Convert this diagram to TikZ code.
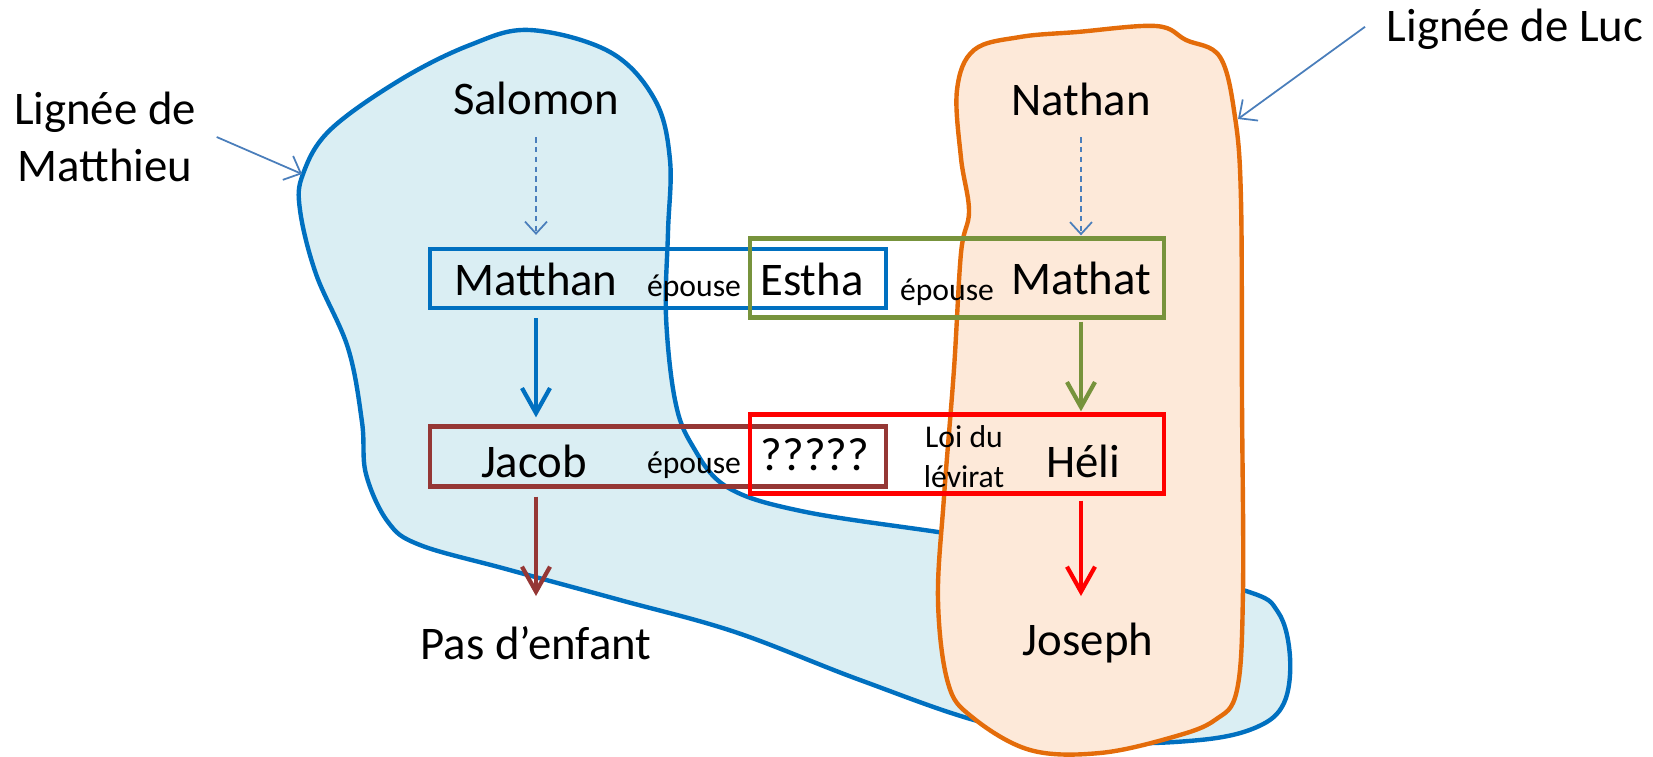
\documentclass[tikz,border=0pt]{standalone}
\usepackage{fontspec}
\setmainfont{Carlito}
\usetikzlibrary{arrows.meta}
\usetikzlibrary{positioning}
\usetikzlibrary{calc}
\definecolor{mblue}{HTML}{0070C0}
\definecolor{mbluefill}{HTML}{DAEEF3}
\definecolor{lorange}{HTML}{E46C0A}
\definecolor{lorangefill}{HTML}{FDE9D9}
\definecolor{mgreen}{HTML}{77933C}
\definecolor{mbrown}{HTML}{953735}
\definecolor{pblue}{HTML}{4A7EBB}
\begin{document}
\begin{tikzpicture}[x=0.01cm, y=-0.01cm,
  person/.style={font=\fontsize{13.3}{16.2}\selectfont, inner sep=0pt, anchor=base},
  note/.style={font=\fontsize{9}{11.2}\selectfont, inner sep=0pt, anchor=base},
  couple/.style={draw=#1, line width=1.2pt, minimum width=4.56cm, inner sep=0pt},
  descent/.style={-{Straight Barb[length=2.5mm,width=2.8mm]}, line width=1.2pt, draw=#1},
  lineage/.style={-{Straight Barb[length=1.2mm,width=2.2mm]}, line width=0.5pt, pblue, dash pattern=on 1.6pt off 1.2pt},
  pointer/.style={-{Straight Barb[length=1.4mm,width=2.6mm]}, line width=0.5pt, pblue}]
\useasboundingbox (0,0) rectangle (1653,757);

\draw[mblue, line width=1.25pt, fill=mbluefill] plot[smooth cycle, tension=0.6] coordinates {
  (530,30) (610,52) (655,100) (670,160) (668,232) (666,316) (675,400) (692,445)
  (727,487) (801,511) (938,532) (1100,555) (1243,590) (1278,612) (1290,657)
  (1284,703) (1257,727) (1200,740) (1100,742) (985,723) (860,680) (735,632)
  (620,600) (506,569) (420,545) (388,522) (366,474) (362,422) (348,348)
  (316,274) (300,210) (303,174) (330,130) (400,80) (470,45)};
\draw[lorange, line width=1.25pt, fill=lorangefill] plot[smooth cycle, tension=0.6] coordinates {
  (1077,32) (1156,26) (1186,40) (1220,57) (1235,117) (1241,200) (1242,400)
  (1243,590) (1237,690) (1215,720) (1173,737) (1100,753) (1030,750) (972,717)
  (948,683) (938,600) (944,497) (954,369) (961,253) (969,211) (961,158)
  (957,90) (974,50) (1020,37)};

\node (bmatthan) at (658,278.5) [couple=mblue, minimum height=0.59cm] {};
\node (bmathat) at (957,278) [couple=mgreen, minimum width=4.13cm, minimum height=0.79cm] {};
\node (bjacob) at (658,456.5) [couple=mbrown, minimum height=0.6cm] {};
\node (bheli) at (957,454) [couple=red, minimum width=4.13cm, minimum height=0.79cm] {};

\node (lmatthieu) at (105,137) [person, anchor=center, align=center] {Lignée de\\Matthieu};
\node (lluc) at (1515,41) [person] {Lignée de Luc};
\node (salomon) at (536,114) [person] {Salomon};
\node (nathan) at (1081,115) [person] {Nathan};
\node (matthan) at (536,295) [person] {Matthan};
\node (epouse1) at (694,296) [note] {épouse};
\node (estha) at (812,295) [person] {Estha};
\node (epouse2) at (947,300) [note] {épouse};
\node (mathat) at (1081,294) [person] {Mathat};
\node (jacob) at (534,477) [person] {Jacob};
\node (epouse3) at (694,473) [note] {épouse};
\node (inconnue) at (815,470) [person] {?????};
\node (levirat) at (964,487) [note, align=center] {Loi du\\lévirat};
\node (heli) at (1083,477) [person] {Héli};
\node (pas) at (536,659) [person] {Pas d’enfant};
\node (joseph) at (1088,655) [person] {Joseph};

\coordinate (mtip) at (302,174);
\coordinate (ltip) at (1238,119);
\draw[pointer] ([shift={(20,0)}]lmatthieu.east) -- (mtip);
\draw[pointer] ([shift={(-21,-2)}]lluc.west) -- (ltip);

\draw[lineage] ([shift={(0,23)}]salomon.base) -- ([shift={(0,-12)}]bmatthan.north -| salomon);
\draw[lineage] ([shift={(0,22)}]nathan.base) -- ([shift={(0,-1)}]bmathat.north -| nathan);

\draw[descent=mblue] ([shift={(0,8)}]bmatthan.south -| matthan) -- ([shift={(0,-7)}]bjacob.north -| matthan);
\draw[descent=mgreen] ([shift={(0,2)}]bmathat.south -| nathan) -- ([shift={(0,-1)}]bheli.north -| nathan);
\draw[descent=mbrown] ([shift={(0,8)}]bjacob.south -| matthan) -- ([shift={(0,-63)}]pas.base -| matthan);
\draw[descent=red] ([shift={(0,5)}]bheli.south -| nathan) -- ([shift={(0,-59)}]joseph.base -| nathan);
\end{tikzpicture}
\end{document}
